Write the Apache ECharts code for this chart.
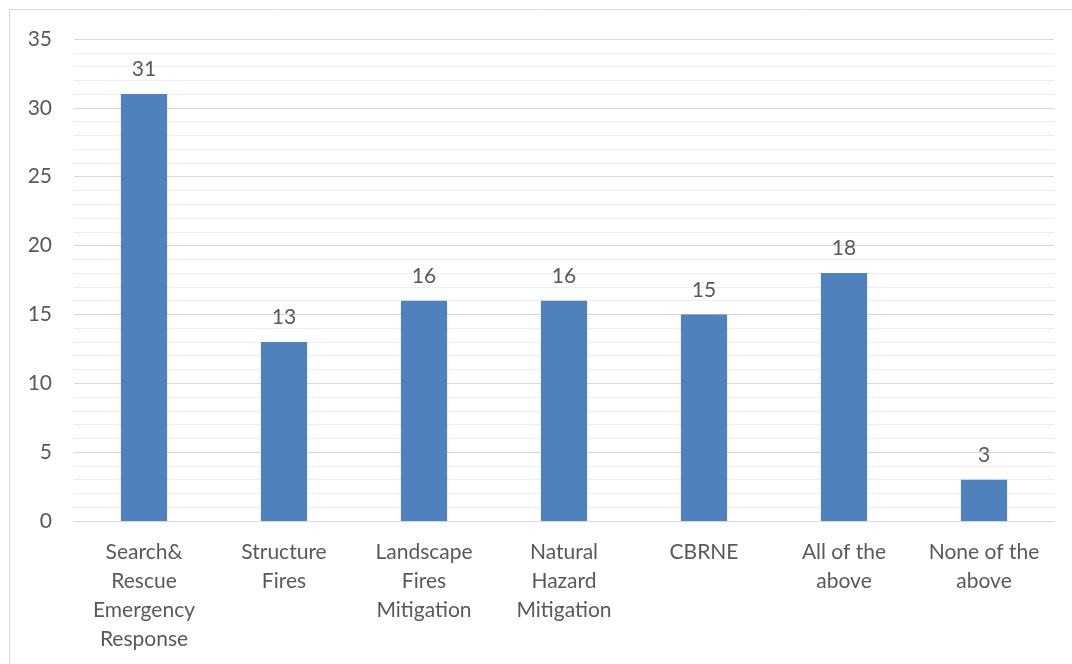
<!DOCTYPE html>
<html>
<head>
<meta charset="utf-8">
<script src="https://cdn.jsdelivr.net/npm/echarts@6/dist/echarts.min.js"></script>
<style>
  html, body { margin: 0; padding: 0; background: #fff; }
  #chart { width: 1072px; height: 664px; }
</style>
</head>
<body>
<div id="chart"></div>
<script>
// Survey responses per training area
const categories = [
  'Search&\nRescue\nEmergency\nResponse',
  'Structure\nFires',
  'Landscape\nFires\nMitigation',
  'Natural\nHazard\nMitigation',
  'CBRNE',
  'All of the\nabove',
  'None of the\nabove'
];
const counts = [31, 13, 16, 16, 15, 18, 3];
const yTicks = { min: 0, max: 35, interval: 5 };

const font = 'Lato, "Liberation Sans", sans-serif';
const textColor = '#595959';

const chart = echarts.init(document.getElementById('chart'));
chart.setOption({
  animation: false,
  backgroundColor: '#ffffff',
  graphic: [{
    type: 'rect',
    shape: { x: 9.5, y: 9.5, width: 1070, height: 700 },
    style: { fill: 'none', stroke: '#d9d9d9', lineWidth: 1 },
    silent: true
  }],
  grid: { left: 74, right: 18, top: 39, bottom: 143, containLabel: false },
  xAxis: {
    type: 'category',
    data: categories,
    axisTick: { show: false },
    axisLine: { show: true, lineStyle: { color: '#d9d9d9', width: 1 } },
    axisLabel: {
      color: textColor, fontFamily: font, fontSize: 21,
      lineHeight: 29, margin: 17, interval: 0
    }
  },
  yAxis: {
    type: 'value',
    min: yTicks.min, max: yTicks.max, interval: yTicks.interval,
    axisLine: { show: false },
    axisTick: { show: false },
    axisLabel: { color: textColor, fontFamily: font, fontSize: 21, margin: 22 },
    splitLine: { show: true, lineStyle: { color: '#d9d9d9', width: 1 } },
    minorTick: { show: false, splitNumber: 5 },
    minorSplitLine: { show: true, lineStyle: { color: '#ededed', width: 1 } }
  },
  series: [{
    type: 'bar',
    data: counts,
    barWidth: '33%',
    itemStyle: { color: '#4f81bd' },
    label: {
      show: true, position: 'top', distance: 14,
      color: textColor, fontFamily: font, fontSize: 21
    }
  }]
});
</script>
</body>
</html>
